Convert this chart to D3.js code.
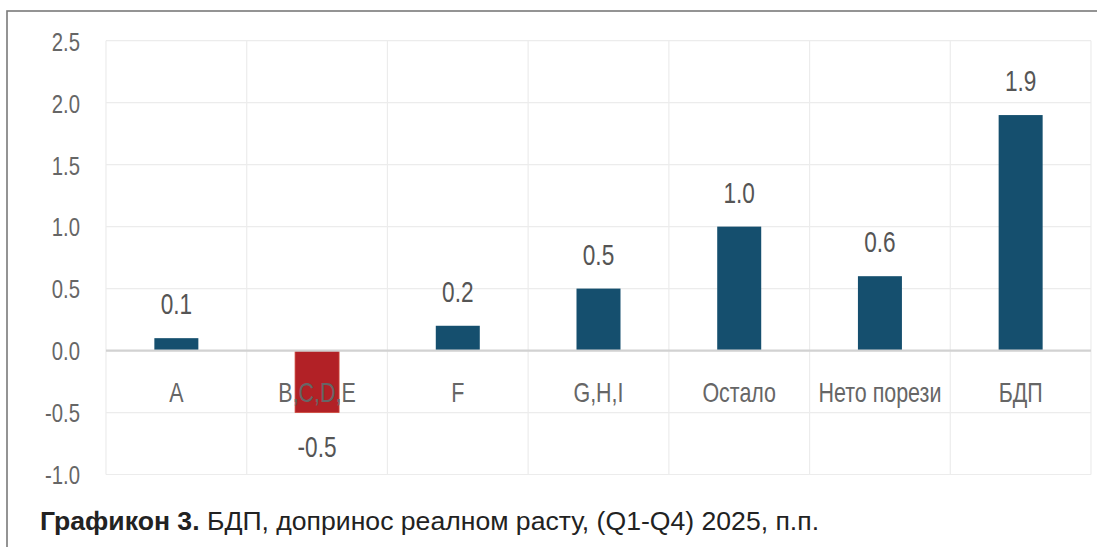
<!DOCTYPE html>
<html><head><meta charset="utf-8">
<script src="https://cdn.jsdelivr.net/npm/d3@7"></script>
<style>
html,body{margin:0;padding:0;background:#fff;overflow:hidden}
</style></head>
<body>
<svg id="chart" width="1097" height="547"></svg>
<script>
const categories = ["A","B,C,D,E","F","G,H,I","Остало","Нето порези","БДП"];
const values = [0.1,-0.5,0.2,0.5,1.0,0.6,1.9];
const valueLabels = ["0.1","-0.5","0.2","0.5","1.0","0.6","1.9"];
const yTicks = [-1.0,-0.5,0.0,0.5,1.0,1.5,2.0,2.5];
const captionBold = "Графикон 3.";
const captionRest = " БДП, допринос реалном расту, (Q1-Q4) 2025, п.п.";

const FONT = "'Liberation Sans', Arial, sans-serif";
const SX = 0.78; // horizontal compression to mimic condensed face

const svg = d3.select("#chart");
const pLeft = 106, pRight = 1091, pTop = 40.7, pBottom = 474.5;

// outer frame
svg.append("rect").attr("x",7).attr("y",11).attr("width",1200).attr("height",600)
  .attr("fill","none").attr("stroke","#7a7a7a").attr("stroke-width",1.6);

const x = d3.scaleBand().domain(categories).range([pLeft,pRight]).paddingInner(0).paddingOuter(0);
const y = d3.scaleLinear().domain([-1,2.5]).range([pBottom,pTop]);

// horizontal gridlines
svg.append("g").selectAll("line").data(yTicks).join("line")
  .attr("x1",pLeft).attr("x2",pRight)
  .attr("y1",d=>y(d)).attr("y2",d=>y(d))
  .attr("stroke","#ececec").attr("stroke-width",1.2);

// vertical gridlines
const vx = categories.map(c=>x(c)).concat([x(categories[categories.length-1])+x.bandwidth()]);
svg.append("g").selectAll("line").data(vx).join("line")
  .attr("x1",d=>d).attr("x2",d=>d).attr("y1",pTop).attr("y2",pBottom)
  .attr("stroke","#ececec").attr("stroke-width",1.2);

// y axis labels
const fmt = d3.format(".1f");
const yAxis = d3.axisLeft(y).tickValues(yTicks).tickFormat(d=>fmt(d).replace("−","-")).tickSize(0).tickPadding(0);
const ga = svg.append("g").attr("transform","translate(80,0)").call(yAxis);
ga.select(".domain").remove();
ga.selectAll("text").attr("font-size",26).attr("fill","#666")
  .style("font-family",FONT)
  .attr("x",0).attr("dy","0.36em").attr("transform",`scale(${SX},1)`);

// bars
const bw = 44;
svg.append("g").selectAll("rect").data(values).join("rect")
  .attr("x",(d,i)=>x(categories[i])+x.bandwidth()/2-bw/2)
  .attr("width",bw)
  .attr("y",d=>y(Math.max(0,d)))
  .attr("height",d=>Math.abs(y(d)-y(0)))
  .attr("fill",d=>d<0?"#b22126":"#154f6e")
  .attr("stroke",d=>d<0?"#cf4a3c":"none").attr("stroke-width",0.8);

// zero line
svg.append("line").attr("x1",pLeft).attr("x2",pRight).attr("y1",y(0)).attr("y2",y(0))
  .attr("stroke","#d2d2d2").attr("stroke-width",2.2);

// category labels
svg.append("g").selectAll("g").data(categories).join("g")
  .attr("transform",d=>`translate(${x(d)+x.bandwidth()/2},401.5)`)
  .append("text")
  .attr("transform",`scale(${SX},1)`)
  .attr("text-anchor","middle").attr("font-size",27.5).attr("fill","#666")
  .style("font-family",FONT)
  .text(d=>d);

// value labels
svg.append("g").selectAll("g").data(values).join("g")
  .attr("transform",(d,i)=>`translate(${x(categories[i])+x.bandwidth()/2},${d>=0?y(d)-24:y(d)+44})`)
  .append("text")
  .attr("transform",`scale(${SX},1)`)
  .attr("text-anchor","middle").attr("font-size",29).attr("fill","#555")
  .style("font-family",FONT)
  .text((d,i)=>valueLabels[i]);

// caption
const cap = svg.append("text").attr("x",40).attr("y",530)
  .style("font-family",FONT).attr("font-size",26.6).attr("fill","#222");
cap.append("tspan").attr("font-weight","bold").text(captionBold);
cap.append("tspan").text(captionRest);
</script>
</body></html>
